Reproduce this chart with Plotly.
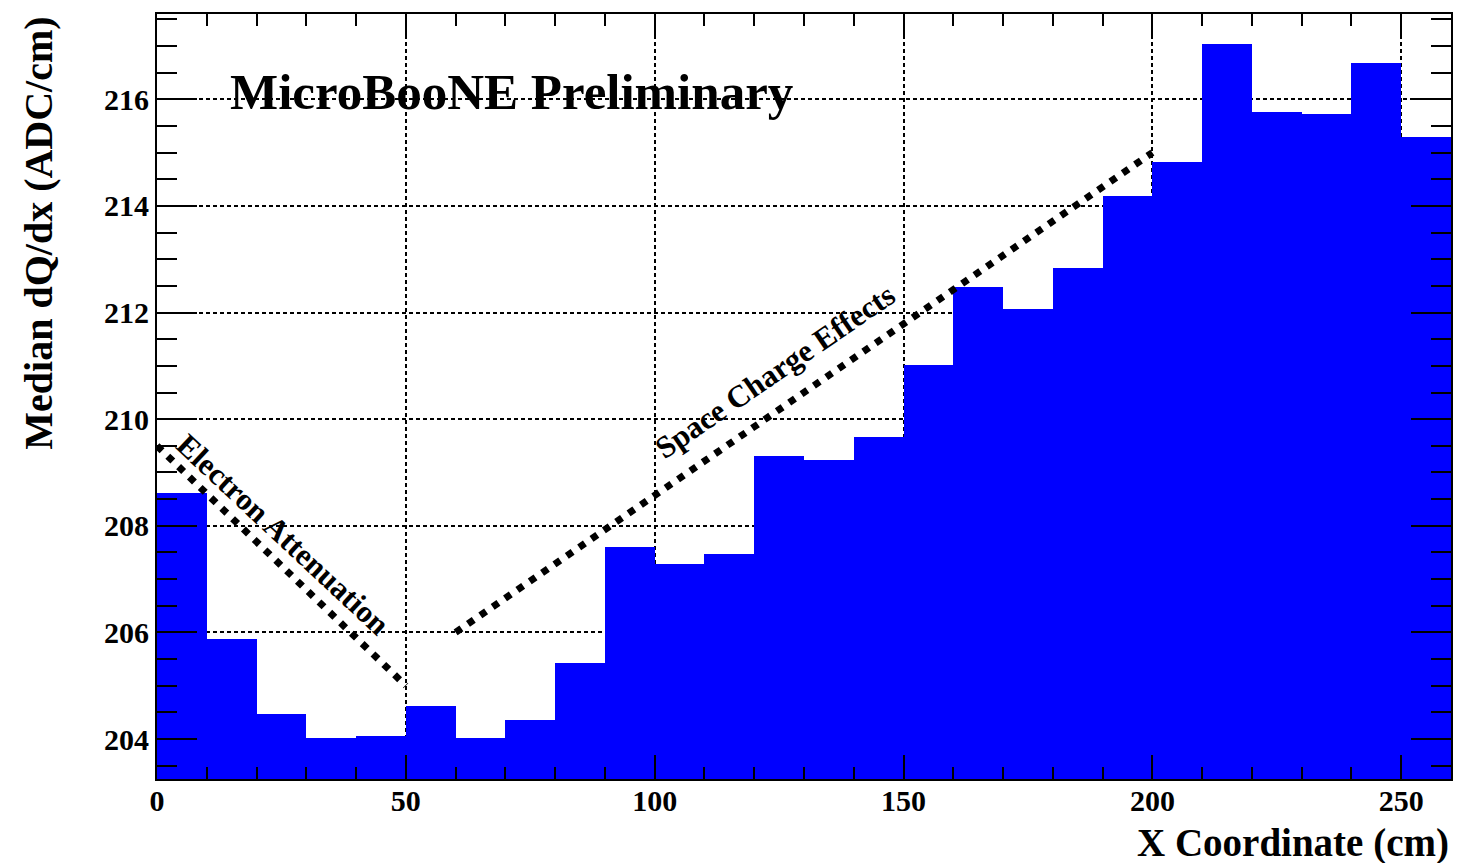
import plotly.graph_objects as go

# Median dQ/dx per 10 cm bin in drift coordinate X
bin_edges = list(range(0, 270, 10))
median_dqdx = [208.62, 205.88, 204.47, 204.02, 204.06, 204.62, 204.02, 204.36,
               205.42, 207.61, 207.28, 207.47, 209.31, 209.23, 209.66, 211.02,
               212.47, 212.07, 212.84, 214.18, 214.83, 217.04, 215.77, 215.73,
               216.68, 215.29]

# Guide lines for the two effects
electron_x = [0, 50]
electron_y = [209.5, 205.0]
space_x = [60, 200]
space_y = [206.0, 215.0]

bin_centers = [(a + b) / 2 for a, b in zip(bin_edges[:-1], bin_edges[1:])]
bin_widths = [b - a for a, b in zip(bin_edges[:-1], bin_edges[1:])]

FONT = "Liberation Serif"

fig = go.Figure()
fig.add_trace(go.Bar(
    x=bin_centers, y=median_dqdx, width=bin_widths,
    marker=dict(color="#0000ff", line=dict(width=0)),
    showlegend=False,
))

dots = dict(color="black", width=7, dash="7px,8px")
fig.add_trace(go.Scatter(x=electron_x, y=electron_y, mode="lines",
                         line=dots, showlegend=False))
fig.add_trace(go.Scatter(x=space_x, y=space_y, mode="lines",
                         line=dots, showlegend=False))

tickfont = dict(family=FONT, size=30, color="black", weight="bold")

fig.update_xaxes(
    range=[0, 260], showline=True, linecolor="black", linewidth=2,
    mirror="ticks", ticks="inside", ticklen=24, tickwidth=2, tickcolor="black",
    tickvals=[0, 50, 100, 150, 200, 250], tickfont=tickfont,
    ticklabelstandoff=-6,
    showgrid=True, gridcolor="black", gridwidth=1.5, griddash="4px,3px",
    minor=dict(dtick=10, ticks="inside", ticklen=12, tickwidth=2,
               tickcolor="black", showgrid=False),
    zeroline=False,
)
fig.update_yaxes(
    range=[203.25, 217.6], showline=True, linecolor="black", linewidth=2,
    mirror="ticks", ticks="inside", ticklen=40, tickwidth=2, tickcolor="black",
    tickvals=[204, 206, 208, 210, 212, 214, 216], tickfont=tickfont,
    showgrid=True, gridcolor="black", gridwidth=1.5, griddash="4px,3px",
    minor=dict(dtick=0.5, ticks="inside", ticklen=20, tickwidth=2,
               tickcolor="black", showgrid=False),
    zeroline=False,
)

fig.add_annotation(
    x=14.2, y=216.14, xref="x", yref="y", xanchor="left", yanchor="middle",
    text="MicroBooNE Preliminary", showarrow=False,
    font=dict(family=FONT, size=51, color="black", weight="bold"),
)
fig.add_annotation(
    x=25.3, y=207.83, xref="x", yref="y", text="Electron Attenuation",
    textangle=43, showarrow=False,
    font=dict(family=FONT, size=31, color="black", weight="bold"),
)
fig.add_annotation(
    x=124.1, y=210.89, xref="x", yref="y", text="Space Charge Effects",
    textangle=-34.4, showarrow=False,
    font=dict(family=FONT, size=31, color="black", weight="bold"),
)
fig.add_annotation(
    x=0.9992, y=-0.0837, xref="paper", yref="paper", xanchor="right",
    yanchor="middle", text="X Coordinate (cm)", showarrow=False, borderpad=0,
    font=dict(family=FONT, size=39, color="black", weight="bold"),
)
fig.add_annotation(
    x=-0.0918, y=0.9987, xref="paper", yref="paper", xanchor="center",
    yanchor="top", text="Median dQ/dx (ADC/cm)", textangle=-90, showarrow=False,
    font=dict(family=FONT, size=40, color="black", weight="bold"),
)

fig.update_layout(
    width=1457, height=863,
    margin=dict(l=157, r=4, t=14, b=84),
    paper_bgcolor="white", plot_bgcolor="white",
    bargap=0,
)

fig.write_html("out.html")
